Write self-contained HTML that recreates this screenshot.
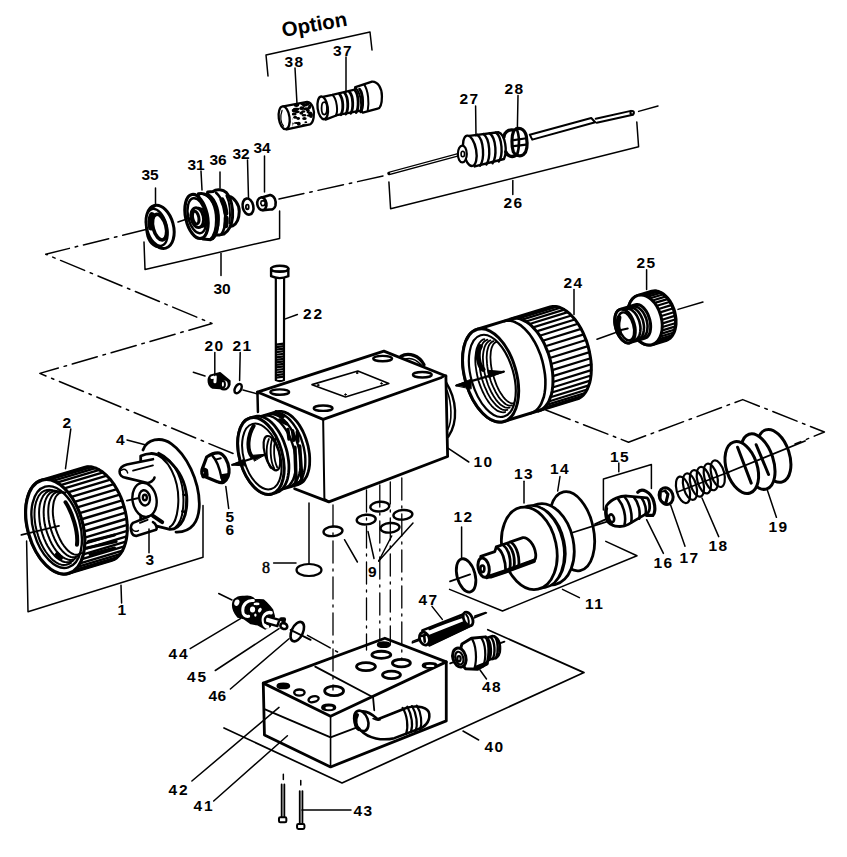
<!DOCTYPE html>
<html><head><meta charset="utf-8"><style>
html,body{margin:0;padding:0;background:#fff;}
svg{display:block;}
.z *{vector-effect:non-scaling-stroke;}
</style></head><body>
<svg width="847" height="857" viewBox="0 0 847 857" stroke="#000" fill="none" stroke-linecap="round" stroke-linejoin="round">
<rect width="847" height="857" fill="#fff" stroke="none"/>
<defs><clipPath id="c38"><path d="M 150 215 L 262 193 C 295 200 310 250 300 300 C 295 330 285 340 275 343 L 160 370 Z"/></clipPath></defs>
<g class="z" transform="translate(270 75) scale(0.14168)">
<path d="M 95 222 L 262 190 C 300 195 318 250 308 300 C 302 335 292 345 282 348 L 118 384" stroke-width="2.3" fill="#fff"/>
<ellipse cx="100" cy="302" rx="38" ry="81" transform="rotate(-8 100 302)" stroke-width="2.3" fill="#fff"/>
<path d="M 85 250 C 70 290 75 340 95 360" stroke-width="1.2"/>
<g clip-path="url(#c38)"><ellipse cx="178" cy="298" rx="14" ry="11" fill="#000" stroke="none"/><ellipse cx="240" cy="212" rx="10" ry="13" fill="#000" stroke="none"/><ellipse cx="181" cy="242" rx="20" ry="10" fill="#000" stroke="none"/><ellipse cx="274" cy="286" rx="16" ry="8" fill="#000" stroke="none"/><ellipse cx="242" cy="356" rx="15" ry="12" fill="#000" stroke="none"/><ellipse cx="247" cy="212" rx="18" ry="11" fill="#000" stroke="none"/><ellipse cx="188" cy="206" rx="19" ry="10" fill="#000" stroke="none"/><ellipse cx="255" cy="358" rx="17" ry="13" fill="#000" stroke="none"/><ellipse cx="203" cy="344" rx="14" ry="14" fill="#000" stroke="none"/><ellipse cx="281" cy="218" rx="11" ry="9" fill="#000" stroke="none"/><ellipse cx="294" cy="279" rx="16" ry="9" fill="#000" stroke="none"/><ellipse cx="221" cy="269" rx="14" ry="11" fill="#000" stroke="none"/><ellipse cx="233" cy="363" rx="17" ry="14" fill="#000" stroke="none"/><ellipse cx="277" cy="378" rx="17" ry="8" fill="#000" stroke="none"/><ellipse cx="278" cy="374" rx="19" ry="11" fill="#000" stroke="none"/><ellipse cx="254" cy="238" rx="18" ry="11" fill="#000" stroke="none"/><ellipse cx="186" cy="211" rx="19" ry="14" fill="#000" stroke="none"/><ellipse cx="154" cy="344" rx="14" ry="8" fill="#000" stroke="none"/><ellipse cx="187" cy="338" rx="19" ry="7" fill="#000" stroke="none"/><ellipse cx="238" cy="208" rx="17" ry="9" fill="#000" stroke="none"/><ellipse cx="281" cy="377" rx="15" ry="14" fill="#000" stroke="none"/><ellipse cx="190" cy="214" rx="16" ry="7" fill="#000" stroke="none"/><ellipse cx="172" cy="273" rx="16" ry="8" fill="#000" stroke="none"/><ellipse cx="147" cy="356" rx="13" ry="14" fill="#000" stroke="none"/><ellipse cx="283" cy="268" rx="15" ry="11" fill="#000" stroke="none"/><ellipse cx="243" cy="307" rx="16" ry="11" fill="#000" stroke="none"/><ellipse cx="290" cy="291" rx="14" ry="12" fill="#000" stroke="none"/><ellipse cx="178" cy="254" rx="20" ry="11" fill="#000" stroke="none"/><ellipse cx="228" cy="202" rx="14" ry="11" fill="#000" stroke="none"/><ellipse cx="143" cy="311" rx="16" ry="7" fill="#000" stroke="none"/><ellipse cx="240" cy="284" rx="17" ry="9" fill="#000" stroke="none"/><ellipse cx="253" cy="333" rx="10" ry="7" fill="#000" stroke="none"/><ellipse cx="248" cy="373" rx="13" ry="10" fill="#000" stroke="none"/><ellipse cx="235" cy="258" rx="14" ry="9" fill="#000" stroke="none"/><ellipse cx="199" cy="307" rx="13" ry="10" fill="#000" stroke="none"/><ellipse cx="264" cy="205" rx="16" ry="12" fill="#000" stroke="none"/><ellipse cx="190" cy="240" rx="18" ry="9" fill="#000" stroke="none"/><ellipse cx="170" cy="278" rx="17" ry="8" fill="#000" stroke="none"/><ellipse cx="192" cy="260" rx="18" ry="10" fill="#000" stroke="none"/><ellipse cx="277" cy="230" rx="13" ry="12" fill="#000" stroke="none"/><ellipse cx="282" cy="281" rx="12" ry="8" fill="#000" stroke="none"/><ellipse cx="225" cy="234" rx="18" ry="13" fill="#000" stroke="none"/><ellipse cx="169" cy="250" rx="18" ry="11" fill="#000" stroke="none"/><ellipse cx="269" cy="262" rx="11" ry="9" fill="#000" stroke="none"/><ellipse cx="267" cy="249" rx="13" ry="10" fill="#000" stroke="none"/></g>
<path d="M 380 152 L 440 140 L 470 133 L 598 103 L 603 85 L 720 47 C 760 45 790 90 790 150 C 790 210 775 235 760 238 L 655 265 L 640 252 L 472 284 L 392 315" stroke-width="2.3" fill="#fff"/>
<ellipse cx="372" cy="232" rx="36" ry="81" transform="rotate(-8 372 232)" stroke-width="2.3" fill="#fff"/>
<ellipse cx="383" cy="235" rx="19" ry="44" stroke-width="1.8"/>
<path d="M 440 140 C 475 170 480 260 465 285" stroke-width="2"/>
<path d="M 490 133 C 520 170 520 250 500 280 M 525 125 C 555 160 555 245 535 275 M 560 118 C 590 150 590 240 570 270 M 600 108 C 628 140 628 235 608 265 M 632 100 C 660 135 660 230 640 260" stroke-width="2.8"/>
<path d="M 600 88 C 640 120 650 200 640 258 M 665 68 C 695 110 700 200 690 250" stroke-width="2"/>
</g>
<g class="z" transform="translate(140 200) scale(0.05831)">
<ellipse cx="345" cy="460" rx="228" ry="378" transform="rotate(-15 345 460)" stroke-width="3" fill="#fff"/>
<path d="M 250 110 C 120 150 80 420 130 620 C 170 760 280 830 360 800" stroke-width="2.4" fill="none"/>
<ellipse cx="290" cy="470" rx="170" ry="325" transform="rotate(-15 290 470)" stroke-width="2.4" fill="#fff"/>
<ellipse cx="335" cy="465" rx="110" ry="225" transform="rotate(-15 335 465)" stroke-width="3.5" fill="#fff"/>
<path d="M 205 260 C 175 320 170 420 190 470" stroke-width="6"/>
</g>
<g class="z" transform="translate(180 185) scale(0.07675)">
<path d="M 640 150 C 700 160 775 250 772 345 C 770 440 745 500 690 530 L 630 545 Z" stroke-width="3" fill="#fff"/>
<path d="M 430 85 C 480 45 560 60 605 100 C 665 170 695 300 685 420 C 675 520 640 600 570 640 L 520 650 L 360 650 L 360 90 Z" stroke-width="3" fill="#fff"/>
<path d="M 470 100 C 560 180 600 330 590 470 C 585 540 570 600 540 640" stroke-width="2.6"/>
<path d="M 548 195 C 592 275 612 400 597 530" stroke-width="5" stroke-dasharray="14 5"/>
<path d="M 605 140 C 645 220 660 360 645 500" stroke-width="2"/>
<path d="M 240 115 C 380 80 480 260 495 420 C 505 560 470 690 400 712 L 300 705 Z" stroke-width="3" fill="#fff"/>
<path d="M 300 118 C 410 140 470 300 470 450 C 470 570 450 660 390 708" stroke-width="2.2"/>
<path d="M 345 112 C 450 150 510 300 505 450 C 500 560 480 640 430 700" stroke-width="2.2"/>
<ellipse cx="215" cy="410" rx="142" ry="292" transform="rotate(-12 215 410)" stroke-width="3.2" fill="#fff"/>
<ellipse cx="220" cy="400" rx="115" ry="232" transform="rotate(-12 220 400)" stroke-width="2.4"/>
<path d="M 240 300 L 300 320 C 335 380 345 480 320 535 L 255 550" stroke-width="2.6" fill="#fff"/>
<ellipse cx="225" cy="425" rx="80" ry="130" transform="rotate(-12 225 425)" stroke-width="3" fill="#fff"/>
<ellipse cx="205" cy="425" rx="40" ry="85" transform="rotate(-12 205 425)" stroke-width="3"/>
</g>
<g class="z" transform="translate(140 185) scale(0.17709)">
<ellipse cx="610" cy="122" rx="30" ry="46" transform="rotate(-12 610 122)" stroke-width="2.6" fill="#fff"/>
<ellipse cx="606" cy="124" rx="8" ry="13" stroke-width="1.8"/>
<path d="M 688 70 L 735 56 C 760 60 770 90 765 115 C 760 135 745 140 735 138 L 695 142" stroke-width="2.6" fill="#fff"/>
<ellipse cx="688" cy="106" rx="26" ry="36" transform="rotate(-8 688 106)" stroke-width="2.6" fill="#fff"/>
<path d="M 685 90 L 700 88 L 708 100 L 702 115 L 688 117 L 682 104 Z" stroke-width="1.6"/>
</g>
<line x1="389.0" y1="173.4" x2="461.0" y2="154.0" stroke-width="3.6"/>
<line x1="390.5" y1="173" x2="460" y2="154.3" stroke="#fff" stroke-width="1.1"/>
<g class="z" transform="translate(440 95) scale(0.24795)">
<path d="M 362 160 L 610 93 L 626 110 L 372 180 Z" stroke-width="2" fill="#fff"/>
<path d="M 628 96 L 770 64 L 778 80 L 632 112" stroke-width="2" fill="#fff"/>
<circle cx="775" cy="72" r="7" stroke-width="2" fill="#fff"/>

<path d="M 118 165 L 235 150 C 265 160 272 230 258 258 L 140 288" stroke-width="2.4" fill="#fff"/>
<path d="M 150 160 C 178 180 180 260 162 285 M 175 157 C 203 177 205 255 187 280 M 200 154 C 228 174 230 250 212 275 M 225 151 C 252 170 255 245 237 268" stroke-width="2.4"/>
<ellipse cx="120" cy="225" rx="26" ry="62" transform="rotate(-10 120 225)" stroke-width="2.4" fill="#fff"/>
<ellipse cx="90" cy="238" rx="18" ry="34" stroke-width="2.2" fill="#fff"/>
<ellipse cx="92" cy="238" rx="7" ry="11" stroke-width="1.6"/>
</g>
<g class="z" transform="translate(450 120) scale(0.10627)">
<path d="M 600 95 C 545 85 505 125 508 160 M 525 300 C 540 340 580 350 610 338" stroke-width="3.4"/>
<path d="M 600 100 C 640 60 700 75 718 150 C 732 230 722 300 692 325 C 662 348 612 335 596 300 C 578 250 578 150 600 100 Z" fill="#fff" stroke-width="3.2"/>
<path d="M 625 80 C 655 140 658 260 628 335" stroke-width="2.6"/>
<path d="M 600 190 L 720 172 M 600 245 L 716 232" stroke-width="2.2"/>
</g>
<g class="z" transform="translate(195 255) scale(0.16909)">
<path d="M 478 140 L 478 740 Q 502 752 526 740 L 527 140" stroke-width="2.2" fill="#fff"/>
<path d="M 480 530 L 525 524" stroke-width="2.2"/><path d="M 480 545 L 525 539" stroke-width="2.2"/><path d="M 480 560 L 525 554" stroke-width="2.2"/><path d="M 480 575 L 525 569" stroke-width="2.2"/><path d="M 480 590 L 525 584" stroke-width="2.2"/><path d="M 480 605 L 525 599" stroke-width="2.2"/><path d="M 480 620 L 525 614" stroke-width="2.2"/><path d="M 480 635 L 525 629" stroke-width="2.2"/><path d="M 480 650 L 525 644" stroke-width="2.2"/><path d="M 480 665 L 525 659" stroke-width="2.2"/><path d="M 480 680 L 525 674" stroke-width="2.2"/><path d="M 480 695 L 525 689" stroke-width="2.2"/><path d="M 480 710 L 525 704" stroke-width="2.2"/><path d="M 480 725 L 525 719" stroke-width="2.2"/>
<path d="M 450 80 L 450 125 Q 500 148 552 125 L 552 80" stroke-width="2.4" fill="#fff"/>
<ellipse cx="501" cy="82" rx="51" ry="18" stroke-width="2.4" fill="#fff"/>
<path d="M 465 95 L 540 95" stroke-width="1.5"/>
<path d="M 92 712 L 148 698 L 205 745 C 210 775 190 795 170 790 L 105 785 C 80 775 70 735 92 712 Z" fill="#000" stroke-width="2"/>
<ellipse cx="172" cy="765" rx="28" ry="30" stroke-width="2.2" fill="#fff"/>
<ellipse cx="165" cy="765" rx="12" ry="20" stroke-width="2"/>
<path d="M 100 725 L 120 720 L 118 750" stroke="#fff" stroke-width="3"/>
<ellipse cx="255" cy="790" rx="18" ry="30" transform="rotate(30 255 790)" stroke-width="2.4"/>
</g>
<g class="z" transform="translate(250 340) scale(0.24795)">
<path d="M 608 66 C 640 48 682 62 702 100" stroke-width="3.2"/><path d="M 622 78 C 650 68 672 80 690 100" stroke-width="1.6"/>
<path d="M 790 170 C 835 240 840 330 800 390" stroke-width="2.4"/>
<path d="M 795 205 C 815 260 815 330 798 360" stroke-width="1.6"/>
<polygon points="30,210 540,45 790,145 295,320" stroke-width="2.8" fill="#fff"/>
<polyline points="30,210 32,290" stroke-width="2.5"/>
<polyline points="180,600 318,653 797,470 790,145" stroke-width="2.8" fill="#fff"/>
<polyline points="295,320 300,640 318,653" stroke-width="2"/>
<ellipse cx="120" cy="210" rx="38" ry="11" stroke-width="2.4"/>
<ellipse cx="535" cy="75" rx="38" ry="11" stroke-width="2.4"/>
<ellipse cx="695" cy="140" rx="38" ry="11" stroke-width="2.4"/>
<ellipse cx="295" cy="275" rx="38" ry="11" stroke-width="2.4"/>
<polygon points="250,180 435,125 560,175 385,230" stroke-width="1.6"/>
<circle cx="275" cy="182" r="3" fill="#000"/><circle cx="432" cy="133" r="3" fill="#000"/><circle cx="530" cy="175" r="3" fill="#000"/><circle cx="385" cy="220" r="3" fill="#000"/>
</g>
<g class="z" transform="translate(230 400) scale(0.11806)">
<polygon points="399,99 416,96 435,96 454,100 474,107 494,117 513,130 533,147 551,166 570,188 587,212 603,239 618,267 631,297 643,328 653,360 662,393 668,426 673,458 675,490 675,521 674,551 670,579 664,605 656,630 647,651 635,670 623,687 608,700 592,710 575,717 390,771 373,774 354,774 335,770 315,763 295,753 276,740 256,723 238,704 219,682 202,658 186,631 171,603 158,573 146,542 136,510 127,477 121,444 116,412 114,380 114,349 115,319 119,291 125,265 133,240 142,219 154,200 166,183 181,170 197,160 214,153" stroke-width="2.8" fill="#fff"/>
<polyline points="284,134 302,131 320,131 339,135 359,142 378,152 397,165 417,182 435,201 453,223 470,247 486,273 501,301 515,331 526,362 536,394 545,426 551,459 556,491 558,523 558,554 557,583 553,611 547,637 540,661 530,683 519,702 506,718 492,731 477,741 460,748" stroke-width="2.4" /><polyline points="324,122 342,119 360,119 379,123 399,130 418,140 437,153 457,170 475,189 493,211 510,235 526,261 541,289 555,319 566,350 576,382 585,414 591,447 596,479 598,511 598,542 597,571 593,599 587,625 580,649 570,671 559,690 546,706 532,719 517,729 500,736" stroke-width="2.4" /><polyline points="364,110 382,107 400,107 419,111 439,118 458,128 477,141 497,158 515,177 533,199 550,223 566,249 581,277 595,307 606,338 616,370 625,402 631,435 636,467 638,499 638,530 637,559 633,587 627,613 620,637 610,659 599,678 586,694 572,707 557,717 540,724" stroke-width="2.4" />
<path d="M 390 100 L 450 140 M 420 170 L 480 200 M 490 250 L 500 330 M 530 260 L 540 340 M 570 270 L 575 350 M 550 400 L 560 700 M 590 390 L 610 690" stroke-width="3.5"/>
<polygon points="210,140 228,137 248,137 268,140 288,148 309,158 330,172 350,189 370,209 388,232 407,258 423,285 439,315 453,346 465,379 476,412 485,446 491,480 496,514 499,547 499,580 497,611 493,640 487,668 479,693 469,716 457,736 444,753 428,767 412,777 394,784 354,796 336,799 316,799 296,796 276,788 255,778 234,764 214,747 194,727 176,704 157,678 141,651 125,621 111,590 99,557 88,524 79,490 73,456 68,422 65,389 65,356 67,325 71,296 77,268 85,243 95,220 107,200 120,183 136,169 152,159 170,152" stroke-width="2.8" fill="#fff"/>
<ellipse cx="262" cy="474" rx="181" ry="335" transform="rotate(-16 262 474)" stroke-width="3" fill="#fff"/>
<ellipse cx="268" cy="480" rx="153" ry="287" transform="rotate(-16 262 474)" stroke-width="2.0" fill="#fff"/>
<path d="M 200 220 C 150 300 140 420 185 480" stroke-width="4"/>
<ellipse cx="355" cy="450" rx="60" ry="150" transform="rotate(-16 355 450)" stroke-width="2.2"/>
<path d="M 330 330 C 300 400 305 520 345 575 M 360 320 C 335 390 340 520 375 580 M 385 330 C 365 400 370 510 400 570" stroke-width="1.8"/>
<path d="M 20 548 L 300 462" stroke-width="2.2"/>
<polygon points="16,550 122,500 128,555" fill="#000" stroke-width="1"/>
<polygon points="302,460 192,468 205,515" fill="#000" stroke-width="1"/>
</g>
<g class="z" transform="translate(450 290) scale(0.18889)">
<polygon points="530,90 544,87 559,87 574,90 589,96 605,104 620,114 635,127 650,143 665,160 678,179 691,200 703,223 713,247 723,271 731,297 737,322 742,348 746,374 748,399 748,424 747,447 744,470 740,490 733,509 726,527 717,542 707,555 696,565 683,573 670,578 285,696 271,699 256,699 241,696 226,690 210,682 195,672 180,659 165,643 150,626 137,607 124,586 112,563 102,539 92,515 84,489 78,464 73,438 69,412 67,387 67,362 68,339 71,316 75,296 82,277 89,259 98,244 108,231 119,221 132,213 145,208" stroke-width="3" fill="#fff"/>
<path d="M 345 150 L 548 87" stroke-width="2.2"/><path d="M 363 151 L 566 88" stroke-width="2.2"/><path d="M 382 157 L 585 94" stroke-width="2.2"/><path d="M 402 167 L 605 104" stroke-width="2.2"/><path d="M 421 180 L 624 117" stroke-width="2.2"/><path d="M 440 198 L 643 135" stroke-width="2.2"/><path d="M 458 219 L 661 156" stroke-width="2.2"/><path d="M 475 242 L 678 179" stroke-width="2.2"/><path d="M 491 269 L 694 206" stroke-width="2.2"/><path d="M 505 298 L 708 235" stroke-width="2.2"/><path d="M 517 328 L 720 265" stroke-width="2.2"/><path d="M 528 360 L 731 297" stroke-width="2.2"/><path d="M 536 392 L 739 329" stroke-width="2.2"/><path d="M 541 424 L 744 361" stroke-width="2.2"/><path d="M 545 456 L 748 393" stroke-width="2.2"/><path d="M 545 487 L 748 424" stroke-width="2.2"/><path d="M 543 516 L 746 453" stroke-width="2.2"/><path d="M 539 543 L 742 480" stroke-width="2.2"/><path d="M 532 568 L 735 505" stroke-width="2.2"/><path d="M 523 590 L 726 527" stroke-width="2.2"/><path d="M 512 608 L 715 545" stroke-width="2.2"/><path d="M 498 623 L 701 560" stroke-width="2.2"/><path d="M 483 634 L 686 571" stroke-width="2.2"/>
<polyline points="287,165 301,162 316,162 331,165 346,171 362,179 377,189 392,202 407,218 422,235 435,254 448,275 460,298 470,322 480,346 488,372 494,397 499,423 503,449 505,474 505,499 504,522 501,545 497,565 490,584 483,602 474,617 464,630 453,640 440,648 427,653" stroke-width="2.6" />
<polyline points="327,153 341,150 356,150 371,153 386,159 402,167 417,177 432,190 447,206 462,223 475,242 488,263 500,286 510,310 520,334 528,360 534,385 539,411 543,437 545,462 545,487 544,510 541,533 537,553 530,572 523,590 514,605 504,618 493,628 480,636 467,641" stroke-width="3" />
<ellipse cx="215" cy="452" rx="136" ry="254" transform="rotate(-16 215 452)" stroke-width="3" fill="#fff"/>
<ellipse cx="223" cy="457" rx="112" ry="224" transform="rotate(-16 215 452)" stroke-width="2.2" fill="#fff"/>
<polyline points="292,646 283,648 273,647 263,644 252,640 242,633 231,624 220,613 210,601 200,587 190,571 181,554 172,536 164,517 157,498 150,478 145,457 141,437 138,417 135,397 134,378 134,360 136,342 138,326 141,311 146,298 151,287 158,277 165,269 173,263 182,260" stroke-width="1.8" /><polyline points="304,635 295,636 286,635 277,633 267,628 257,621 247,613 237,602 227,590 217,577 208,562 199,546 191,528 183,510 176,491 170,472 165,453 161,433 158,414 156,395 154,376 154,359 155,342 157,327 161,313 165,300 170,289 175,280 182,272 190,267 198,263" stroke-width="1.8" /><polyline points="316,623 308,624 299,623 290,621 281,616 272,610 262,602 253,592 243,580 234,567 226,553 217,537 209,520 202,503 196,485 190,466 185,448 181,429 178,410 176,392 175,375 174,358 175,342 177,327 180,314 183,302 188,291 193,283 200,276 206,270 214,267" stroke-width="1.8" /><polyline points="328,611 320,612 312,612 304,609 295,605 287,598 278,590 269,581 260,570 252,557 243,543 236,528 228,512 221,496 215,479 210,461 205,443 201,425 198,407 196,390 195,373 194,357 195,342 196,328 199,315 202,304 206,294 211,285 217,279 223,274 230,271" stroke-width="1.8" /><polyline points="340,599 333,600 325,600 318,597 310,593 302,587 293,579 285,570 277,559 269,547 261,534 254,520 247,505 241,489 235,472 230,455 225,438 221,421 218,404 216,388 215,372 214,356 215,342 216,328 218,316 221,305 225,296 229,288 234,282 240,277 246,275" stroke-width="1.8" />
<path d="M 160 300 C 140 330 150 400 175 420" stroke-width="5"/>
<path d="M 35 505 L 285 432" stroke-width="2.2"/>
<polygon points="30,506 112,472 112,522" fill="#000" stroke-width="1"/>
<polygon points="285,432 200,425 205,462" fill="#000" stroke-width="1"/>
</g>
<g class="z" transform="translate(600 280) scale(0.11806)">
<polygon points="438,95 452,93 467,92 482,94 498,98 513,104 528,113 543,123 557,136 571,150 584,167 596,184 607,203 616,223 625,244 632,266 637,288 641,310 644,332 644,354 644,375 641,396 637,415 632,433 625,450 617,465 607,479 596,491 584,500 571,507 558,513 441,548 427,550 412,551 397,549 381,545 366,539 351,530 336,520 322,507 308,493 295,476 283,459 272,440 263,420 254,399 247,377 242,355 238,333 235,311 235,289 235,268 238,247 242,228 247,210 254,193 262,178 272,164 283,152 295,143 308,136 321,130" stroke-width="3" fill="#fff"/>
<path d="M 369 125 L 468 95" stroke-width="2.2"/><path d="M 390 130 L 489 100" stroke-width="2.2"/><path d="M 412 139 L 511 109" stroke-width="2.2"/><path d="M 433 153 L 532 123" stroke-width="2.2"/><path d="M 453 171 L 552 141" stroke-width="2.2"/><path d="M 472 192 L 571 162" stroke-width="2.2"/><path d="M 489 216 L 588 186" stroke-width="2.2"/><path d="M 504 243 L 603 213" stroke-width="2.2"/><path d="M 516 272 L 615 242" stroke-width="2.2"/><path d="M 526 303 L 625 273" stroke-width="2.2"/><path d="M 533 334 L 632 304" stroke-width="2.2"/><path d="M 537 365 L 636 335" stroke-width="2.2"/><path d="M 537 396 L 636 366" stroke-width="2.2"/><path d="M 535 425 L 634 395" stroke-width="2.2"/><path d="M 529 452 L 628 422" stroke-width="2.2"/><path d="M 520 477 L 619 447" stroke-width="2.2"/><path d="M 509 499 L 608 469" stroke-width="2.2"/><path d="M 495 517 L 594 487" stroke-width="2.2"/><path d="M 478 531 L 577 501" stroke-width="2.2"/>
<polyline points="430,97 444,95 459,94 474,96 490,100 505,106 520,115 535,125 549,138 563,152 576,169 588,186 599,205 608,225 617,246 624,268 629,290 633,312 636,334 636,356 636,377 633,398 629,417 624,435 617,452 609,467 599,481 588,493 576,502 563,509 550,515" stroke-width="2.0" />
<ellipse cx="381" cy="339" rx="139" ry="217" transform="rotate(-16 381 339)" stroke-width="3" fill="#fff"/>
<polygon points="301,209 310,207 318,207 327,209 336,212 345,217 354,223 363,230 372,239 380,249 388,260 396,272 403,285 409,299 414,313 419,328 423,343 426,358 428,373 429,387 429,402 428,415 426,428 424,440 420,451 416,461 410,470 404,478 398,484 390,488 383,491 253,531 244,533 236,533 227,531 218,528 209,523 200,517 191,510 182,501 174,491 166,480 158,468 151,455 145,441 140,427 135,412 131,397 128,382 126,367 125,353 125,338 126,325 128,312 130,300 134,289 138,279 144,270 150,262 156,256 164,252 171,249" stroke-width="3" fill="#fff"/>
<polyline points="219,245 227,243 236,243 245,244 254,247 263,251 272,257 280,264 289,272 297,281 305,292 312,303 318,315 324,328 330,341 334,354 337,368 340,382 342,396 343,410 342,423 341,436 339,448 337,460 333,470 328,480 323,488 317,495 310,501 303,505 295,508" stroke-width="2.6" /><polyline points="249,236 257,234 266,234 275,235 284,238 293,242 302,248 310,255 319,263 327,272 335,283 342,294 348,306 354,319 360,332 364,345 367,359 370,373 372,387 373,401 372,414 371,427 369,439 367,451 363,461 358,471 353,479 347,486 340,492 333,496 325,499" stroke-width="2.6" /><polyline points="279,227 287,225 296,225 305,226 314,229 323,233 332,239 340,246 349,254 357,263 365,274 372,285 378,297 384,310 390,323 394,336 397,350 400,364 402,378 403,392 402,405 401,418 399,430 397,442 393,452 388,462 383,470 377,477 370,483 363,487 355,490" stroke-width="2.6" />
<ellipse cx="212" cy="390" rx="80" ry="147" transform="rotate(-16 212 390)" stroke-width="3" fill="#fff"/>
<ellipse cx="220" cy="395" rx="62" ry="122" transform="rotate(-16 212 390)" stroke-width="2.4"/>
<path d="M 160 320 C 150 360 150 420 165 450" stroke-width="5"/>
<path d="M 150 430 L 235 410" stroke-width="2"/>
</g>
<g class="z" transform="translate(10 450) scale(0.16332)">
<polygon points="455,107 472,103 491,103 509,106 528,112 547,122 566,134 584,149 602,167 620,187 636,209 651,234 665,260 678,287 689,316 698,346 706,376 712,406 716,436 718,466 718,495 716,522 712,549 706,573 698,596 689,616 677,634 665,649 651,662 635,671 619,677 359,755 342,759 323,759 305,756 286,750 267,740 248,728 230,713 212,695 194,675 178,653 163,628 149,602 136,575 125,546 116,516 108,486 102,456 98,426 96,396 96,367 98,340 102,313 108,289 116,266 125,246 137,228 149,213 163,200 179,191 195,185" stroke-width="3" fill="#fff"/>
<path d="M 217 181 L 477 103" stroke-width="2.4"/><path d="M 240 182 L 500 104" stroke-width="2.4"/><path d="M 263 189 L 523 111" stroke-width="2.4"/><path d="M 287 200 L 547 122" stroke-width="2.4"/><path d="M 310 215 L 570 137" stroke-width="2.4"/><path d="M 333 235 L 593 157" stroke-width="2.4"/><path d="M 355 259 L 615 181" stroke-width="2.4"/><path d="M 376 287 L 636 209" stroke-width="2.4"/><path d="M 395 318 L 655 240" stroke-width="2.4"/><path d="M 412 351 L 672 273" stroke-width="2.4"/><path d="M 426 387 L 686 309" stroke-width="2.4"/><path d="M 438 424 L 698 346" stroke-width="2.4"/><path d="M 448 461 L 708 383" stroke-width="2.4"/><path d="M 454 499 L 714 421" stroke-width="2.4"/><path d="M 458 536 L 718 458" stroke-width="2.4"/><path d="M 458 573 L 718 495" stroke-width="2.4"/><path d="M 455 607 L 715 529" stroke-width="2.4"/><path d="M 449 639 L 709 561" stroke-width="2.4"/><path d="M 440 668 L 700 590" stroke-width="2.4"/><path d="M 429 694 L 689 616" stroke-width="2.4"/><path d="M 414 716 L 674 638" stroke-width="2.4"/><path d="M 398 734 L 658 656" stroke-width="2.4"/><path d="M 379 747 L 639 669" stroke-width="2.4"/>
<ellipse cx="277" cy="470" rx="168" ry="297" transform="rotate(-16 277 470)" stroke-width="3.2" fill="#fff"/>
<ellipse cx="285" cy="474" rx="143" ry="257" transform="rotate(-16 277 470)" stroke-width="2.4" fill="#fff"/>
<polyline points="373,691 359,698 345,703 330,704 314,702 298,697 282,688 265,676 249,661 234,643 219,623 205,601 193,577 181,551 172,524 164,496 157,469 153,441 150,413 150,387 151,362 155,338 160,317 168,297 176,281 187,267 199,256 212,249 227,245 242,244 258,246" stroke-width="2" /><polyline points="388,676 376,683 363,687 349,688 334,686 319,681 303,672 288,661 273,647 258,630 244,610 231,589 219,566 208,541 199,515 191,489 185,462 181,435 179,409 178,384 179,360 182,337 187,317 194,299 202,283 212,270 223,259 235,252 249,248 263,248 278,250" stroke-width="2" /><polyline points="404,661 393,668 380,672 367,673 353,670 339,665 325,657 310,646 296,632 282,616 269,597 257,577 246,555 236,531 227,506 219,481 213,455 209,430 207,405 206,381 207,358 210,337 214,317 220,300 228,284 237,272 247,262 259,256 271,252 284,251 298,254" stroke-width="2" /><polyline points="420,646 409,652 398,656 386,657 373,655 360,650 346,642 333,631 320,618 307,602 294,584 283,565 272,543 263,521 254,497 247,473 241,449 237,425 235,401 234,378 235,356 237,336 241,317 247,301 254,286 262,275 271,265 282,259 293,256 306,255 319,258" stroke-width="2" /><polyline points="436,631 426,637 416,640 404,641 392,639 380,634 368,626 355,616 343,603 331,588 319,571 309,553 299,532 290,511 282,489 275,466 270,442 266,419 263,397 262,375 263,354 265,335 268,317 273,302 279,288 287,277 295,269 305,263 316,260 327,259 339,262" stroke-width="2" />
<path d="M 340 320 C 380 380 420 500 410 580" stroke-width="4"/>
<path d="M 290 640 L 310 660" stroke-width="5"/>
<path d="M 480 560 L 640 520 M 470 600 L 650 560 M 490 640 L 640 600" stroke-width="3"/>
<path d="M 70 520 L 300 465" stroke-width="1.8"/>
</g>
<g class="z" transform="translate(110 430) scale(0.15349)">
<path d="M 215 130 C 240 60 330 40 400 90 C 500 160 580 330 582 480 C 582 600 530 668 430 665" stroke-width="2.8"/>
<path d="M 200 170 C 330 105 480 250 500 430 C 508 560 465 645 390 648 L 200 600 Z" stroke-width="2.8" fill="#fff"/>
<path d="M 270 150 C 385 172 450 330 445 470 C 441 560 418 618 390 632" stroke-width="2"/>
<path d="M 315 148 C 430 200 485 340 478 480 C 475 560 455 615 420 640" stroke-width="2"/>
<path d="M 478 420 L 500 428 L 492 535 L 470 530" stroke-width="2.2"/>
<ellipse cx="225" cy="455" rx="78" ry="112" transform="rotate(-10 225 455)" stroke-width="2.4" fill="#fff"/>
<ellipse cx="225" cy="442" rx="35" ry="50" transform="rotate(-10 225 442)" stroke-width="2.4"/>
<ellipse cx="227" cy="440" rx="13" ry="18" stroke-width="2.4"/>
<path d="M 280 190 L 110 225 C 50 240 45 305 105 312 L 245 345 C 260 345 285 330 290 310" stroke-width="2.6" fill="#fff"/>
<path d="M 75 262 C 90 250 110 255 115 280" stroke-width="1.5"/>
<path d="M 150 265 L 280 230" stroke-width="1.8"/>
<path d="M 250 565 L 150 605 C 125 625 135 690 170 690 L 300 650 C 310 640 300 610 280 600" stroke-width="2.6" fill="#fff"/>
<path d="M 140 640 C 150 660 170 665 185 655" stroke-width="1.5"/>
<path d="M 195 605 L 245 585" stroke-width="1.8"/>
<path d="M 280 560 L 340 600" stroke-width="4"/>
<path d="M 110 460 L 180 445" stroke-width="2"/>

</g>
<g class="z" transform="translate(195 445) scale(0.05313)">
<path d="M 220 225 C 300 170 400 140 460 150 C 540 170 620 290 640 450 C 650 560 610 650 540 700 C 500 715 460 710 420 690 L 170 590 C 120 560 120 500 140 440 Z" fill="#fff" stroke-width="3.2"/>
<path d="M 330 205 C 400 280 460 420 500 620" stroke-width="2.4"/>
<path d="M 385 275 L 485 250" stroke-width="2"/>
<path d="M 490 565 L 630 540 C 620 620 585 690 530 705 C 505 700 495 640 490 565 Z" fill="#000" stroke-width="1.5"/>
<path d="M 150 455 L 205 480 L 215 570 L 160 585" stroke-width="4.5"/>
</g>
<g class="z" transform="translate(445 460) scale(0.20072)">
<ellipse cx="632" cy="355" rx="108" ry="200" transform="rotate(-12 632 355)" stroke-width="2.8"/>
<path d="M 625 365 L 847 295" stroke-width="1.8"/>
<ellipse cx="505" cy="420" rx="135" ry="205" transform="rotate(-12 505 420)" stroke-width="2.8" fill="#fff"/>
<ellipse cx="468" cy="430" rx="128" ry="200" transform="rotate(-12 468 430)" stroke-width="2.4" fill="#fff"/>
<ellipse cx="455" cy="432" rx="135" ry="208" transform="rotate(-12 455 432)" stroke-width="2.4" fill="#fff"/>
<ellipse cx="420" cy="440" rx="135" ry="208" transform="rotate(-12 420 440)" stroke-width="2.8" fill="#fff"/>

<ellipse cx="105" cy="575" rx="45" ry="85" transform="rotate(-15 105 575)" stroke-width="2.8"/>
<path d="M 25 605 L 125 570" stroke-width="1.8"/>
</g>
<g class="z" transform="translate(470 530) scale(0.08264)">
<path d="M 130 320 L 300 262 L 318 205 L 640 92 C 700 85 780 170 795 290 C 800 340 790 360 770 370 L 430 505 L 200 580 Z" fill="#fff" stroke-width="2.8"/>
<path d="M 318 208 C 390 240 432 370 432 500" stroke-width="2.8"/>
<path d="M 410 190 C 470 240 500 360 482 470 M 455 172 C 525 230 548 350 532 455 M 505 155 C 575 215 600 335 590 435" stroke-width="2.8"/>
<path d="M 250 560 L 430 500 L 770 375" stroke-width="4.5"/>
<ellipse cx="165" cy="455" rx="66" ry="118" transform="rotate(-12 165 455)" fill="#fff" stroke-width="3"/>
<ellipse cx="150" cy="470" rx="24" ry="40" stroke-width="2.6"/>
</g>
<g class="z" transform="translate(595 410) scale(0.24795)">
<ellipse cx="722" cy="185" rx="62" ry="110" transform="rotate(-18 722 185)" stroke-width="3" fill="#fff"/>
<ellipse cx="657" cy="208" rx="62" ry="116" transform="rotate(-18 657 208)" stroke-width="3" fill="#fff"/>
<ellipse cx="592" cy="232" rx="62" ry="108" transform="rotate(-18 592 232)" stroke-width="3" fill="#fff"/>
<path d="M 575 150 L 630 295 M 650 140 L 700 260" stroke-width="3"/>
<path d="M 540 250 L 847 125" stroke-width="1.8"/>
<ellipse cx="355" cy="322" rx="26" ry="55" transform="rotate(-15 355 322)" stroke-width="2.2"/><ellipse cx="383" cy="309" rx="26" ry="55" transform="rotate(-15 383 309)" stroke-width="2.2"/><ellipse cx="411" cy="296" rx="26" ry="55" transform="rotate(-15 411 296)" stroke-width="2.2"/><ellipse cx="439" cy="283" rx="26" ry="55" transform="rotate(-15 439 283)" stroke-width="2.2"/><ellipse cx="467" cy="270" rx="26" ry="55" transform="rotate(-15 467 270)" stroke-width="2.2"/><ellipse cx="495" cy="257" rx="26" ry="55" transform="rotate(-15 495 257)" stroke-width="2.2"/>
<path d="M 330 332 L 540 250" stroke-width="1.6"/>
<path d="M 0 460 L 45 440" stroke-width="1.8"/>
</g>
<g class="z" transform="translate(600 480) scale(0.09443)">
<path d="M 70 270 C 120 200 220 165 290 170 L 500 190 C 530 220 535 320 510 345 L 300 470 C 240 505 140 500 90 450 C 55 410 50 320 70 270 Z" fill="#fff" stroke-width="2.8"/>
<path d="M 195 205 C 250 270 280 390 260 470 M 265 185 C 320 250 345 370 330 450 M 360 185 C 410 240 430 340 415 410 M 440 190 C 480 240 495 320 480 370" stroke-width="2.6"/>
<path d="M 75 300 C 60 360 80 440 140 480" stroke-width="2.2"/>
<ellipse cx="122" cy="405" rx="26" ry="42" transform="rotate(-15 122 405)" stroke-width="2.6" fill="#fff"/>
<path d="M 400 130 C 440 80 540 120 570 230 C 590 300 580 360 560 375 L 495 375" stroke-width="3.2"/>
<ellipse cx="700" cy="170" rx="72" ry="90" transform="rotate(-20 700 170)" stroke-width="3" fill="#fff"/>
<path d="M 645 125 L 690 115 L 720 150 L 700 235 L 660 240 L 640 200 Z" stroke-width="2"/>
<path d="M 690 115 L 720 150 L 700 235" stroke-width="3"/>
</g>
<ellipse cx="309.0" cy="570.0" rx="12.5" ry="6.0" transform="rotate(0 309.0 570.0)" stroke-width="2.2" fill="none"/>
<ellipse cx="333.0" cy="531.3" rx="9.5" ry="4.8" transform="rotate(-5 333.0 531.3)" stroke-width="2.4" fill="none"/>
<ellipse cx="366.2" cy="519.6" rx="9.5" ry="4.8" transform="rotate(-5 366.2 519.6)" stroke-width="2.4" fill="none"/>
<ellipse cx="379.8" cy="506.6" rx="9.5" ry="4.8" transform="rotate(-5 379.8 506.6)" stroke-width="2.4" fill="none"/>
<ellipse cx="390.0" cy="527.8" rx="9.5" ry="4.8" transform="rotate(-5 390.0 527.8)" stroke-width="2.4" fill="none"/>
<ellipse cx="402.9" cy="514.8" rx="9.5" ry="4.8" transform="rotate(-5 402.9 514.8)" stroke-width="2.4" fill="none"/>
<g class="z" transform="translate(215 585) scale(0.11806)">
<path d="M 155 145 C 170 105 215 95 250 100 C 285 90 320 105 335 125 L 410 130 C 435 150 465 185 485 210 L 500 265 L 465 350 L 425 370 L 365 335 L 305 325 L 250 285 L 195 270 C 165 235 145 185 155 145 Z" fill="#000" stroke-width="2"/>
<ellipse cx="185" cy="150" rx="21" ry="28" transform="rotate(20 185 150)" fill="#fff" stroke="none"/>
<path d="M 325 132 C 275 125 235 165 235 215 C 235 250 255 270 285 265" stroke="#fff" stroke-width="3"/>

<ellipse cx="318" cy="208" rx="22" ry="25" fill="#fff" stroke="none"/>
<ellipse cx="352" cy="160" rx="26" ry="11" fill="#fff" stroke="none"/>
<ellipse cx="380" cy="212" rx="14" ry="21" transform="rotate(30 380 212)" fill="#fff" stroke="none"/>
<ellipse cx="342" cy="255" rx="10" ry="13" fill="#fff" stroke="none"/>
<path d="M 475 235 C 435 225 405 260 410 305 C 415 345 435 360 445 355" stroke="#fff" stroke-width="3.5"/>
<path d="M 440 265 L 545 295 L 528 348 L 425 318 C 420 300 425 275 440 265 Z" stroke-width="2.4" fill="#fff"/>
<ellipse cx="583" cy="348" rx="30" ry="24" transform="rotate(25 583 348)" stroke-width="2.6" fill="#fff"/>
<path d="M 560 290 L 585 290 L 580 315" stroke-width="4"/>
<ellipse cx="697" cy="395" rx="48" ry="88" transform="rotate(25 697 395)" stroke-width="2.6"/>
<path d="M 640 380 L 810 465" stroke-width="1.8"/>
</g>
<g class="z" transform="translate(255 630) scale(0.23613)">
<polyline points="35,225 40,445 320,580 810,385 810,135" stroke-width="2.8" fill="#fff"/>
<polygon points="35,225 550,35 810,135 320,365" stroke-width="2.8" fill="#fff"/>
<polyline points="320,365 320,580" stroke-width="1.6"/>
<polyline points="40,335 320,455 505,385" stroke-width="1.8"/>
<polyline points="255,155 500,285 505,340" stroke-width="1.8"/>
<ellipse cx="120" cy="237" rx="25" ry="10" fill="#000" stroke-width="2"/>
<ellipse cx="188" cy="265" rx="22" ry="13" stroke-width="2.4"/>
<ellipse cx="248" cy="293" rx="22" ry="12" transform="rotate(-15 248 293)" stroke-width="2.4"/>
<ellipse cx="312" cy="328" rx="28" ry="12" fill="#000" stroke-width="2"/>
<ellipse cx="314" cy="330" rx="16" ry="6" fill="#fff" stroke="none"/>
<ellipse cx="335" cy="258" rx="40" ry="20" stroke-width="2.8"/>
<ellipse cx="470" cy="155" rx="40" ry="17" stroke-width="2.8"/>
<ellipse cx="535" cy="105" rx="40" ry="15" stroke-width="2.8"/>
<ellipse cx="545" cy="62" rx="25" ry="10" fill="#000" stroke-width="2"/>
<ellipse cx="620" cy="140" rx="38" ry="16" stroke-width="2.8"/>
<ellipse cx="578" cy="190" rx="38" ry="16" stroke-width="2.8"/>
<ellipse cx="740" cy="150" rx="30" ry="10" fill="#000" stroke-width="2"/>
<ellipse cx="742" cy="152" rx="18" ry="5" fill="#fff" stroke="none"/>
<path d="M 440 350 C 470 330 510 370 520 378 L 640 330 C 690 315 735 330 738 355 C 742 390 715 415 690 420 L 590 458 C 540 470 480 460 448 425 C 420 400 418 365 440 350 Z" stroke-width="2.6" fill="#fff"/>
<ellipse cx="450" cy="385" rx="28" ry="45" transform="rotate(-20 450 385)" stroke-width="2.6" fill="#fff"/>
<path d="M 432 360 C 420 380 425 410 440 420" stroke-width="4"/>
<path d="M 625 330 C 645 360 650 410 640 440 M 645 325 C 665 360 670 405 660 432 M 665 322 C 685 355 690 400 680 428 M 685 320 C 705 350 708 395 700 420" stroke-width="2.2"/>
<path d="M 500 375 C 510 380 520 385 530 380" stroke-width="1.6"/>
</g>
<g class="z" transform="translate(380 570) scale(0.25974)">


</g>
<g class="z" transform="translate(410 605) scale(0.11806)">
<path d="M 105 215 L 470 72 L 525 170 L 165 342 Z" fill="#fff" stroke-width="2.6"/>
<path d="M 150 265 L 465 140 L 505 182 L 180 335 Z" fill="#000" stroke-width="1.5"/>
<path d="M 165 205 C 200 190 420 110 450 100" stroke-width="2.2"/>
<ellipse cx="492" cy="118" rx="36" ry="62" transform="rotate(-25 492 118)" stroke-width="2.8" fill="#fff"/>
<path d="M 475 80 C 500 110 505 160 490 185" stroke-width="2"/>
<ellipse cx="122" cy="285" rx="40" ry="56" transform="rotate(-20 122 285)" stroke-width="2.8" fill="#fff"/>
<path d="M 100 262 L 140 250 M 120 257 L 125 310" stroke-width="2.6"/>
<path d="M 20 320 L 80 298 M 550 95 L 640 65" stroke-width="1.8"/>
</g>
<g class="z" transform="translate(410 605) scale(0.11806)">
<path d="M 620 290 L 700 262 C 750 270 770 330 760 400 C 750 440 730 455 700 455 L 640 470 Z" fill="#fff" stroke-width="2.6"/>
<path d="M 655 280 C 690 320 695 420 670 465 M 685 272 C 720 310 725 410 700 458 M 715 265 C 748 300 752 400 728 450" stroke-width="2.4"/>
<path d="M 440 330 L 520 282 L 640 270 C 670 300 680 420 650 500 L 570 545 L 470 540 C 430 500 420 380 440 330 Z" fill="#fff" stroke-width="3"/>
<path d="M 520 282 C 560 330 570 460 545 540 M 600 275 C 640 320 650 440 620 520" stroke-width="2.2"/>
<path d="M 560 530 L 650 495" stroke-width="4"/>
<ellipse cx="418" cy="445" rx="55" ry="82" transform="rotate(-15 418 445)" stroke-width="3" fill="#fff"/>
<ellipse cx="418" cy="450" rx="33" ry="55" transform="rotate(-15 418 450)" stroke-width="2.2"/>
<ellipse cx="415" cy="455" rx="14" ry="22" stroke-width="2.2"/>
<path d="M 340 495 L 375 482 M 760 325 L 800 310" stroke-width="1.8"/>
</g>
<g class="z" transform="translate(150 570) scale(0.33501)">
<path d="M 393 640 L 393 740 M 401 640 L 401 740" stroke-width="1.8"/>
<rect x="385" y="738" width="22" height="15" rx="4" stroke-width="2" fill="#fff"/>
<path d="M 447 660 L 447 760 M 455 660 L 455 760" stroke-width="1.8"/>
<rect x="439" y="758" width="22" height="15" rx="4" stroke-width="2" fill="#fff"/>
<path d="M 398 610 L 398 625 M 450 628 L 450 642" stroke-width="1.5"/>
</g>
<text x="284.5" y="66.5" font-family='"Liberation Sans", sans-serif' font-weight="bold" font-size="15.5" letter-spacing="1.5" fill="#000" stroke="none">38</text>
<text x="333.0" y="55.5" font-family='"Liberation Sans", sans-serif' font-weight="bold" font-size="15.5" letter-spacing="1.5" fill="#000" stroke="none">37</text>
<text x="141.5" y="180" font-family='"Liberation Sans", sans-serif' font-weight="bold" font-size="15.5" letter-spacing="0" fill="#000" stroke="none">35</text>
<text x="187.5" y="170" font-family='"Liberation Sans", sans-serif' font-weight="bold" font-size="15.5" letter-spacing="0" fill="#000" stroke="none">31</text>
<text x="209.5" y="165" font-family='"Liberation Sans", sans-serif' font-weight="bold" font-size="15.5" letter-spacing="0" fill="#000" stroke="none">36</text>
<text x="232.5" y="159" font-family='"Liberation Sans", sans-serif' font-weight="bold" font-size="15.5" letter-spacing="0" fill="#000" stroke="none">32</text>
<text x="253.5" y="153" font-family='"Liberation Sans", sans-serif' font-weight="bold" font-size="15.5" letter-spacing="0" fill="#000" stroke="none">34</text>
<text x="213.5" y="294" font-family='"Liberation Sans", sans-serif' font-weight="bold" font-size="15.5" letter-spacing="0" fill="#000" stroke="none">30</text>
<text x="459.5" y="104" font-family='"Liberation Sans", sans-serif' font-weight="bold" font-size="15.5" letter-spacing="1.5" fill="#000" stroke="none">27</text>
<text x="504.5" y="93.5" font-family='"Liberation Sans", sans-serif' font-weight="bold" font-size="15.5" letter-spacing="1.5" fill="#000" stroke="none">28</text>
<text x="503.5" y="207.8" font-family='"Liberation Sans", sans-serif' font-weight="bold" font-size="15.5" letter-spacing="1.5" fill="#000" stroke="none">26</text>
<text x="204.5" y="351" font-family='"Liberation Sans", sans-serif' font-weight="bold" font-size="15.5" letter-spacing="1.5" fill="#000" stroke="none">20</text>
<text x="232.5" y="351" font-family='"Liberation Sans", sans-serif' font-weight="bold" font-size="15.5" letter-spacing="1.5" fill="#000" stroke="none">21</text>
<text x="563.5" y="288" font-family='"Liberation Sans", sans-serif' font-weight="bold" font-size="15.5" letter-spacing="1.5" fill="#000" stroke="none">24</text>
<text x="636.5" y="268" font-family='"Liberation Sans", sans-serif' font-weight="bold" font-size="15.5" letter-spacing="1.5" fill="#000" stroke="none">25</text>
<text x="62.5" y="427.5" font-family='"Liberation Sans", sans-serif' font-weight="bold" font-size="15.5" letter-spacing="0" fill="#000" stroke="none">2</text>
<text x="116.0" y="445" font-family='"Liberation Sans", sans-serif' font-weight="bold" font-size="15.5" letter-spacing="0" fill="#000" stroke="none">4</text>
<text x="225.5" y="522" font-family='"Liberation Sans", sans-serif' font-weight="bold" font-size="15.5" letter-spacing="0" fill="#000" stroke="none">5</text>
<text x="225.5" y="535" font-family='"Liberation Sans", sans-serif' font-weight="bold" font-size="15.5" letter-spacing="0" fill="#000" stroke="none">6</text>
<text x="145.5" y="564.5" font-family='"Liberation Sans", sans-serif' font-weight="bold" font-size="15.5" letter-spacing="0" fill="#000" stroke="none">3</text>
<text x="117.5" y="614.8" font-family='"Liberation Sans", sans-serif' font-weight="bold" font-size="15.5" letter-spacing="0" fill="#000" stroke="none">1</text>
<text x="473.5" y="467" font-family='"Liberation Sans", sans-serif' font-weight="bold" font-size="15.5" letter-spacing="1.5" fill="#000" stroke="none">10</text>
<text x="514.0" y="479" font-family='"Liberation Sans", sans-serif' font-weight="bold" font-size="15.5" letter-spacing="1.5" fill="#000" stroke="none">13</text>
<text x="550.0" y="474" font-family='"Liberation Sans", sans-serif' font-weight="bold" font-size="15.5" letter-spacing="1.5" fill="#000" stroke="none">14</text>
<text x="610.0" y="462" font-family='"Liberation Sans", sans-serif' font-weight="bold" font-size="15.5" letter-spacing="1.5" fill="#000" stroke="none">15</text>
<text x="453.5" y="522" font-family='"Liberation Sans", sans-serif' font-weight="bold" font-size="15.5" letter-spacing="1.5" fill="#000" stroke="none">12</text>
<text x="653.5" y="568" font-family='"Liberation Sans", sans-serif' font-weight="bold" font-size="15.5" letter-spacing="1.5" fill="#000" stroke="none">16</text>
<text x="679.5" y="563" font-family='"Liberation Sans", sans-serif' font-weight="bold" font-size="15.5" letter-spacing="1.5" fill="#000" stroke="none">17</text>
<text x="708.5" y="551" font-family='"Liberation Sans", sans-serif' font-weight="bold" font-size="15.5" letter-spacing="1.5" fill="#000" stroke="none">18</text>
<text x="768.5" y="531.5" font-family='"Liberation Sans", sans-serif' font-weight="bold" font-size="15.5" letter-spacing="1.5" fill="#000" stroke="none">19</text>
<text x="585.0" y="608.5" font-family='"Liberation Sans", sans-serif' font-weight="bold" font-size="15.5" letter-spacing="1.5" fill="#000" stroke="none">11</text>
<text x="368.0" y="576.5" font-family='"Liberation Sans", sans-serif' font-weight="bold" font-size="15.5" letter-spacing="0" fill="#000" stroke="none">9</text>
<text x="418.5" y="605" font-family='"Liberation Sans", sans-serif' font-weight="bold" font-size="15.5" letter-spacing="1.5" fill="#000" stroke="none">47</text>
<text x="482.0" y="692" font-family='"Liberation Sans", sans-serif' font-weight="bold" font-size="15.5" letter-spacing="1.5" fill="#000" stroke="none">48</text>
<text x="484.5" y="751.8" font-family='"Liberation Sans", sans-serif' font-weight="bold" font-size="15.5" letter-spacing="1.5" fill="#000" stroke="none">40</text>
<text x="353.5" y="815.6" font-family='"Liberation Sans", sans-serif' font-weight="bold" font-size="15.5" letter-spacing="1.5" fill="#000" stroke="none">43</text>
<text x="303" y="319.4" font-family='"Liberation Sans", sans-serif' font-weight="bold" font-size="15.5" letter-spacing="2.0" fill="#000" stroke="none">22</text>
<text x="168.5" y="659" font-family='"Liberation Sans", sans-serif' font-weight="bold" font-size="15.5" letter-spacing="2.0" fill="#000" stroke="none">44</text>
<text x="187" y="682.3" font-family='"Liberation Sans", sans-serif' font-weight="bold" font-size="15.5" letter-spacing="2.0" fill="#000" stroke="none">45</text>
<text x="208.5" y="700.8" font-family='"Liberation Sans", sans-serif' font-weight="bold" font-size="15.5" letter-spacing="0.3" fill="#000" stroke="none">46</text>
<text x="168.5" y="794.6" font-family='"Liberation Sans", sans-serif' font-weight="bold" font-size="15.5" letter-spacing="2.0" fill="#000" stroke="none">42</text>
<text x="193.5" y="811.3" font-family='"Liberation Sans", sans-serif' font-weight="bold" font-size="15.5" letter-spacing="2.0" fill="#000" stroke="none">41</text>
<text x="262" y="573" font-family='"Liberation Serif", serif' font-size="16" fill="#000" stroke="#000" stroke-width="0.5">8</text>
<text x="0" y="0" transform="translate(283,37) rotate(-10)" font-family='"Liberation Sans", sans-serif' font-weight="bold" font-size="20.5" fill="#000" stroke="none">Option</text>
<polyline points="268.0,76.0 266.0,55.0 370.0,32.0 372.0,50.0" stroke-width="1.5" fill="none"/>
<line x1="295.0" y1="68.0" x2="297.0" y2="104.0" stroke-width="1.5"/>
<line x1="346.0" y1="57.0" x2="346.0" y2="92.0" stroke-width="1.5"/>
<line x1="155.5" y1="188.0" x2="155.5" y2="205.0" stroke-width="1.5"/>
<line x1="201.0" y1="171.0" x2="202.0" y2="190.0" stroke-width="1.5"/>
<line x1="220.0" y1="172.0" x2="220.0" y2="188.0" stroke-width="1.5"/>
<line x1="247.5" y1="160.0" x2="248.5" y2="198.0" stroke-width="1.5"/>
<line x1="264.5" y1="156.0" x2="264.5" y2="192.0" stroke-width="1.5"/>
<polyline points="144.0,242.0 145.0,269.5 279.6,238.4 279.6,211.0" stroke-width="1.5" fill="none"/>
<line x1="221.0" y1="253.5" x2="221.0" y2="275.6" stroke-width="1.5"/>
<line x1="475.6" y1="106.0" x2="476.0" y2="136.0" stroke-width="1.5"/>
<line x1="518.0" y1="95.4" x2="517.4" y2="127.3" stroke-width="1.5"/>
<polyline points="388.9,182.0 390.6,208.8 638.6,146.8 636.8,122.0" stroke-width="1.5" fill="none"/>
<line x1="512.8" y1="180.4" x2="512.8" y2="194.6" stroke-width="1.5"/>
<line x1="284.0" y1="319.4" x2="297.4" y2="314.5" stroke-width="1.5"/>
<line x1="214.8" y1="352.5" x2="214.8" y2="375.6" stroke-width="1.5"/>
<line x1="240.2" y1="352.5" x2="239.6" y2="380.6" stroke-width="1.5"/>
<line x1="574.0" y1="289.6" x2="574.0" y2="314.4" stroke-width="1.5"/>
<line x1="646.6" y1="269.8" x2="646.6" y2="289.6" stroke-width="1.5"/>
<line x1="70.8" y1="428.9" x2="65.5" y2="468.7" stroke-width="1.5"/>
<line x1="127.0" y1="440.0" x2="146.0" y2="445.0" stroke-width="1.5"/>
<line x1="225.8" y1="486.4" x2="228.7" y2="508.5" stroke-width="1.5"/>
<line x1="149.0" y1="529.0" x2="149.0" y2="552.8" stroke-width="1.5"/>
<polyline points="26.6,541.0 28.0,611.8 203.0,557.3 203.0,505.6" stroke-width="1.5" fill="none"/>
<line x1="121.0" y1="585.3" x2="121.6" y2="603.0" stroke-width="1.5"/>
<line x1="447.2" y1="447.7" x2="468.8" y2="462.0" stroke-width="1.5"/>
<line x1="524.0" y1="481.3" x2="524.0" y2="503.0" stroke-width="1.5"/>
<line x1="560.0" y1="476.5" x2="557.7" y2="491.0" stroke-width="1.5"/>
<line x1="461.6" y1="527.0" x2="461.6" y2="558.2" stroke-width="1.5"/>
<line x1="562.5" y1="589.4" x2="579.4" y2="597.6" stroke-width="1.5"/>
<polyline points="449.6,589.4 502.5,611.0 637.0,555.8 605.8,541.4" stroke-width="1.5" fill="none"/>
<polyline points="603.4,510.0 603.4,479.0 651.4,464.5 651.4,488.5" stroke-width="1.5" fill="none"/>
<line x1="618.8" y1="463.0" x2="618.8" y2="471.7" stroke-width="1.5"/>
<line x1="646.6" y1="519.7" x2="663.4" y2="553.4" stroke-width="1.5"/>
<line x1="670.7" y1="505.3" x2="685.0" y2="546.2" stroke-width="1.5"/>
<line x1="702.0" y1="498.0" x2="718.7" y2="536.6" stroke-width="1.5"/>
<line x1="766.8" y1="488.5" x2="776.4" y2="517.3" stroke-width="1.5"/>
<line x1="273.6" y1="563.0" x2="296.0" y2="563.0" stroke-width="1.5"/>
<line x1="309.0" y1="503.0" x2="309.0" y2="563.0" stroke-width="1.5"/>
<line x1="344.5" y1="539.7" x2="357.4" y2="562.0" stroke-width="1.5"/>
<line x1="368.0" y1="531.4" x2="374.0" y2="558.5" stroke-width="1.5"/>
<line x1="378.7" y1="561.0" x2="391.7" y2="536.0" stroke-width="1.5"/>
<line x1="378.7" y1="561.0" x2="413.0" y2="523.0" stroke-width="1.5"/>
<line x1="432.0" y1="606.4" x2="442.3" y2="619.4" stroke-width="1.5"/>
<line x1="480.0" y1="670.0" x2="486.5" y2="679.0" stroke-width="1.5"/>
<line x1="463.0" y1="731.0" x2="478.7" y2="740.0" stroke-width="1.5"/>
<line x1="190.2" y1="648.7" x2="240.5" y2="618.6" stroke-width="1.5"/>
<line x1="215.3" y1="670.5" x2="279.0" y2="628.6" stroke-width="1.5"/>
<line x1="230.4" y1="689.0" x2="289.0" y2="638.7" stroke-width="1.5"/>
<line x1="191.9" y1="781.0" x2="279.0" y2="707.4" stroke-width="1.5"/>
<line x1="213.7" y1="801.0" x2="287.4" y2="735.8" stroke-width="1.5"/>
<line x1="302.0" y1="810.0" x2="351.0" y2="810.0" stroke-width="1.5"/>
<polyline points="224.0,728.0 342.0,783.0 584.0,672.6 487.8,629.7" stroke-width="1.7" fill="none"/>
<polyline points="148.0,229.0 45.7,254.2 212.0,323.5 39.8,373.4 239.0,456.0" stroke-width="1.5" fill="none" stroke-dasharray="26 6 2.5 6"/>
<polyline points="193.3,372.3 205.0,376.0" stroke-width="1.5" fill="none" stroke-dasharray="26 6 2.5 6"/>
<polyline points="243.0,390.0 257.8,394.0" stroke-width="1.5" fill="none" stroke-dasharray="26 6 2.5 6"/>
<polyline points="383.0,176.0 279.0,199.0" stroke-width="1.5" fill="none" stroke-dasharray="26 6 2.5 6"/>
<polyline points="638.6,111.4 658.0,106.0" stroke-width="1.5" fill="none" stroke-dasharray="26 6 2.5 6"/>
<polyline points="178.0,222.0 190.0,218.0" stroke-width="1.5" fill="none" stroke-dasharray="26 6 2.5 6"/>
<polyline points="597.0,339.2 620.0,331.0" stroke-width="1.5" fill="none" stroke-dasharray="26 6 2.5 6"/>
<polyline points="678.0,309.4 706.0,301.2" stroke-width="1.5" fill="none" stroke-dasharray="26 6 2.5 6"/>
<polyline points="545.8,410.0 628.5,442.2 742.7,399.6 824.4,432.0 795.0,444.0" stroke-width="1.5" fill="none" stroke-dasharray="26 6 2.5 6"/>
<polyline points="333.0,505.0 333.0,690.0" stroke-width="1.3" fill="none" stroke-dasharray="22 6 2 6"/>
<polyline points="366.5,490.0 366.5,650.0" stroke-width="1.3" fill="none" stroke-dasharray="22 6 2 6"/>
<polyline points="379.8,485.0 379.8,640.0" stroke-width="1.3" fill="none" stroke-dasharray="22 6 2 6"/>
<polyline points="390.3,482.0 390.3,645.0" stroke-width="1.3" fill="none" stroke-dasharray="22 6 2 6"/>
<polyline points="401.8,478.0 401.8,660.0" stroke-width="1.3" fill="none" stroke-dasharray="22 6 2 6"/>
<polyline points="218.7,593.5 232.0,600.0" stroke-width="1.5" fill="none" stroke-dasharray="26 6 2.5 6"/>
<polyline points="307.5,635.3 337.6,652.0" stroke-width="1.5" fill="none" stroke-dasharray="26 6 2.5 6"/>
<polyline points="412.5,641.4 420.0,638.5" stroke-width="1.5" fill="none" stroke-dasharray="26 6 2.5 6"/>
<polyline points="474.0,618.0 486.5,612.9" stroke-width="1.5" fill="none" stroke-dasharray="26 6 2.5 6"/>
</svg></body></html>
